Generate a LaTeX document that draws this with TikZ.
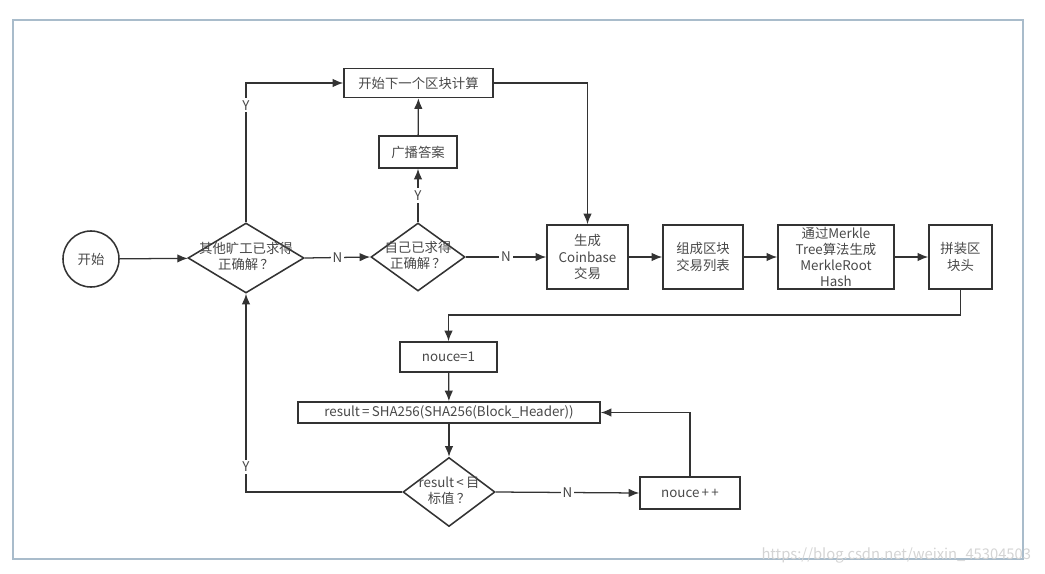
\documentclass[tikz,border=0pt]{standalone}
\usepackage{fontspec}
\setmainfont{Noto Sans CJK SC}
\usetikzlibrary{shapes,arrows.meta,positioning,calc}
\usepackage{xcolor}
\definecolor{linec}{HTML}{333333}
\definecolor{textc}{HTML}{484848}
\definecolor{framec}{HTML}{A9BCCB}
\definecolor{wmc}{HTML}{D4D4D4}

\begin{document}
\begin{tikzpicture}[x=0.025cm,y=-0.025cm,
    font=\fontsize{9.5}{11.5}\selectfont, text=textc,
    >={Latex[length=7.5pt,width=6pt]},
    box/.style={draw=linec, line width=1.1pt, align=center, inner sep=1pt},
    decision/.style={diamond, draw=linec, line width=1.1pt, inner sep=0pt},
    flow/.style={draw=linec, line width=0.9pt, ->},
    yn/.style={fill=white, inner sep=1.5pt, text=textc}]
  \useasboundingbox (0,0) rectangle (1045,573);
  % frame
  \draw[framec, line width=1pt] (13,20) rectangle (1023,559);

  % nodes
  \node[circle, draw=linec, line width=1.1pt, minimum size=1.4cm, inner sep=0pt] (start) at (91,259) {开始};
  \node[decision, minimum width=2.9cm, minimum height=1.75cm,
        label={center:{\begin{tabular}{@{}c@{}}其他旷工已求得\\正确解\,？\end{tabular}}}] (other) at (246,258) {};
  \node[decision, minimum width=2.35cm, minimum height=1.7cm,
        label={center:{\begin{tabular}{@{}c@{}}自己已求得\\正确解\,？\end{tabular}}}] (self) at (418,257) {};
  \node[box, minimum width=3.725cm, minimum height=0.725cm] (next) at (418.5,83) {开始下一个区块计算};
  \node[box, minimum width=1.95cm, minimum height=0.8cm] (bcast) at (418,152) {广播答案};
  \node[box, minimum width=2.025cm, minimum height=1.6cm] (coinbase) at (587.5,257) {生成\\Coinbase\\交易};
  \node[box, minimum width=2cm, minimum height=1.6cm] (txlist) at (703,257) {组成区块\\交易列表};
  \node[box, minimum width=2.9cm, minimum height=1.6cm] (merkle) at (836,257) {通过Merkle\\Tree算法生成\\MerkleRoot\\Hash};
  \node[box, minimum width=1.575cm, minimum height=1.6cm] (header) at (960.5,257) {拼装区\\块头};
  \node[box, minimum width=2.425cm, minimum height=0.75cm] (nonce1) at (448.5,357) {nouce=1};
  \node[box, minimum width=7.55cm, minimum height=0.525cm] (hash) at (449,412.5) {result\,=\,SHA256(SHA256(Block\_Header))};
  \node[decision, minimum width=2.3cm, minimum height=1.725cm,
        label={center:{\begin{tabular}{@{}c@{}}result\,<\,目\\标值\,？\end{tabular}}}] (target) at (449,492) {};
  \node[box, minimum width=2.5cm, minimum height=0.8cm] (inc) at (690,493) {nouce\,+\,+};
  \coordinate (bend) at (448.5,315);
  \node[text=wmc, font=\fontsize{10.5}{12}\selectfont, anchor=east] (wm) at (1036,555) {https://blog.csdn.net/weixin\_45304503};

  % connectors
  \draw[flow] (start) -- (other);
  \draw[flow] (other.east) -- node[yn] {N} (self.west);
  \draw[flow] (self.east) -- node[yn] {N} (coinbase.west);
  \draw[flow] (other.north) |- node[yn, pos=0.42] {Y} (next.west);
  \draw[flow] (self.north) -- node[yn] {Y} (bcast.south);
  \draw[flow] (bcast) -- (next);
  \draw[flow] (next.east) -| (coinbase.north);
  \draw[flow] (coinbase) -- (txlist);
  \draw[flow] (txlist) -- (merkle);
  \draw[flow] (merkle) -- (header);
  \draw[flow] (header.south) |- (bend) -- (nonce1.north);
  \draw[flow] (nonce1) -- (hash);
  \draw[flow] (hash) -- (target);
  \draw[flow] (target.east) -- node[yn] {N} (inc.west);
  \draw[flow] (inc.north) |- (hash.east);
  \draw[flow] (target.west) -| node[yn, pos=0.563] {Y} (other.south);
\end{tikzpicture}
\end{document}
